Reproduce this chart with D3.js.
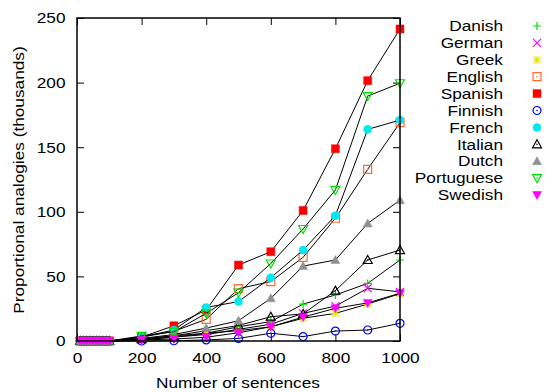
<!DOCTYPE html>
<html>
<head>
<meta charset="utf-8">
<script src="https://cdn.jsdelivr.net/npm/d3@7"></script>
<style>
  body { margin: 0; background: #fff; }
  text { font-family: "Liberation Sans", Arial, sans-serif; }
</style>
</head>
<body>
<svg id="chart" width="552" height="392"></svg>
<script>
// x values (number of sentences)
var sentences = [10, 20, 30, 40, 50, 60, 70, 80, 90, 100, 200, 300, 400, 500, 600, 700, 800, 900, 1000];
var zeros = [0, 0, 0, 0, 0, 0, 0, 0, 0, 0];

// proportional analogies (thousands)
var danish     = zeros.concat([1.5, 4, 6, 11, 15, 28.6, 35.6, 44.6, 62.7]);
var german     = zeros.concat([1, 3, 5, 9, 13, 21.4, 27, 40.8, 38]);
var greek      = zeros.concat([1, 3, 6, 8, 11, 17.6, 21.4, 28.6, 36.6]);
var english    = zeros.concat([3, 7.5, 16.8, 40.5, 46, 64.8, 95, 132.9, 169]);
var spanish    = zeros.concat([3, 11.8, 24, 58.8, 69.1, 101, 148.8, 201.5, 241.5]);
var finnish    = zeros.concat([0, 0.2, 0.8, 2, 6, 3.4, 7.7, 8.5, 13.7]);
var french     = zeros.concat([3, 8.5, 26, 30.5, 49, 70.4, 97, 163.8, 171]);
var italian    = zeros.concat([1.5, 4, 8, 12, 18.8, 21, 39, 62.7, 70.4]);
var dutch      = zeros.concat([2, 5, 10, 15.7, 33, 58, 62.7, 91, 109]);
var portuguese = zeros.concat([3.9, 7.2, 21.4, 37.4, 60, 86.7, 116.9, 189.6, 199.5]);
var swedish    = zeros.concat([0.8, 1.5, 2.9, 6.4, 11, 18.5, 25.3, 29.5, 37]);

var languages = ["Danish", "German", "Greek", "English", "Spanish", "Finnish", "French", "Italian", "Dutch", "Portuguese", "Swedish"];
var values = [danish, german, greek, english, spanish, finnish, french, italian, dutch, portuguese, swedish];
var markers = ["plus", "cross", "star", "squareOpen", "squareFill", "circleOpen", "circleFill", "triOpen", "triFill", "dtriOpen", "dtriFill"];
var colors = ["#00e000", "#ff00ff", "#e8e800", "#ff6a30", "#ff0000", "#0000ff", "#00e8f0", "#000000", "#909090", "#00e000", "#ff00ff"];

var xTicks = [0, 200, 400, 600, 800, 1000];
var yTicks = [0, 50, 100, 150, 200, 250];

var svg = d3.select("#chart");
var pLeft = 77, pRight = 400, pTop = 18, pBottom = 341;
var fs = 15, stretch = "scale(1.15,1)";   // the reference font is wide

var x = d3.scaleLinear().domain([0, 1000]).range([pLeft, pRight]);
var y = d3.scaleLinear().domain([0, 250]).range([pBottom, pTop]);

// axes, gnuplot style: inward ticks, mirrored
function noDomain(g) { g.select(".domain").remove(); }
svg.append("g").attr("transform", "translate(0," + pBottom + ")")
  .call(d3.axisBottom(x).tickValues(xTicks).tickSize(-7).tickPadding(11).tickFormat(d3.format("d")))
  .call(noDomain);
svg.append("g").attr("transform", "translate(0," + pTop + ")")
  .call(d3.axisTop(x).tickValues(xTicks).tickSize(-7).tickFormat(""))
  .call(noDomain);
svg.append("g").attr("transform", "translate(" + pLeft + ",0)")
  .call(d3.axisLeft(y).tickValues(yTicks).tickSize(-7).tickPadding(10).tickFormat(d3.format("d")))
  .call(noDomain);
svg.append("g").attr("transform", "translate(" + pRight + ",0)")
  .call(d3.axisRight(y).tickValues(yTicks).tickSize(-7).tickFormat(""))
  .call(noDomain);
svg.selectAll(".tick line").attr("stroke", "#000").attr("stroke-width", 1);
svg.selectAll(".tick text").attr("font-size", fs).attr("fill", "#000")
  .attr("font-family", "Liberation Sans, Arial, sans-serif")
  .attr("transform", stretch);

// markers
function markerPath(type) {
  if (type == "plus") return "M-4,0H4M0,-4V4";
  if (type == "cross") return "M-4,-4L4,4M-4,4L4,-4";
  if (type == "star") return "M-4,0H4M0,-4V4M-3.5,-3.5L3.5,3.5M-3.5,3.5L3.5,-3.5";
  if (type.indexOf("square") == 0) return "M-4,-4H4V4H-4Z";
  if (type.indexOf("circle") == 0) return "M4,0A4,4 0 1,1 -4,0A4,4 0 1,1 4,0Z";
  if (type.indexOf("tri") == 0) return "M0,-4.5L4.5,3.5H-4.5Z";
  return "M0,4.5L4.5,-3.5H-4.5Z";
}
function drawMarker(g, type, color, px, py) {
  var filled = type.indexOf("Fill") > 0;
  var open = type.indexOf("Open") > 0;
  g.append("path")
    .attr("d", markerPath(type))
    .attr("transform", "translate(" + px + "," + py + ")")
    .attr("fill", filled ? color : "none")
    .attr("stroke", color)
    .attr("stroke-width", filled ? 0.5 : 1.2);
  if (open) {
    g.append("circle").attr("cx", px).attr("cy", py).attr("r", 0.8).attr("fill", color);
  }
}

var line = d3.line()
  .x(function(d, i) { return x(sentences[i]); })
  .y(function(d) { return y(d); });

values.forEach(function(vals, k) {
  var g = svg.append("g");
  g.append("path")
    .attr("d", line(vals))
    .attr("fill", "none")
    .attr("stroke", "#000")
    .attr("stroke-width", 1);
  vals.forEach(function(v, i) {
    drawMarker(g, markers[k], colors[k], x(sentences[i]), y(v));
  });
});

// frame
svg.append("rect")
  .attr("x", pLeft).attr("y", pTop)
  .attr("width", pRight - pLeft).attr("height", pBottom - pTop)
  .attr("fill", "none").attr("stroke", "#000").attr("stroke-width", 1.5);

// legend
var legend = svg.append("g");
languages.forEach(function(name, k) {
  var ly = 26 + k * 16.9;
  legend.append("text")
    .attr("transform", "translate(503," + ly + ") " + stretch)
    .attr("dy", "0.35em")
    .attr("text-anchor", "end").attr("font-size", fs)
    .text(name);
  drawMarker(legend, markers[k], colors[k], 537, ly);
});

// axis titles
svg.append("text")
  .attr("transform", "translate(238,388) " + stretch)
  .attr("text-anchor", "middle").attr("font-size", fs)
  .text("Number of sentences");
svg.append("text")
  .attr("transform", "translate(24,180) rotate(-90) " + stretch)
  .attr("text-anchor", "middle").attr("font-size", fs)
  .text("Proportional analogies (thousands)");
</script>
</body>
</html>
